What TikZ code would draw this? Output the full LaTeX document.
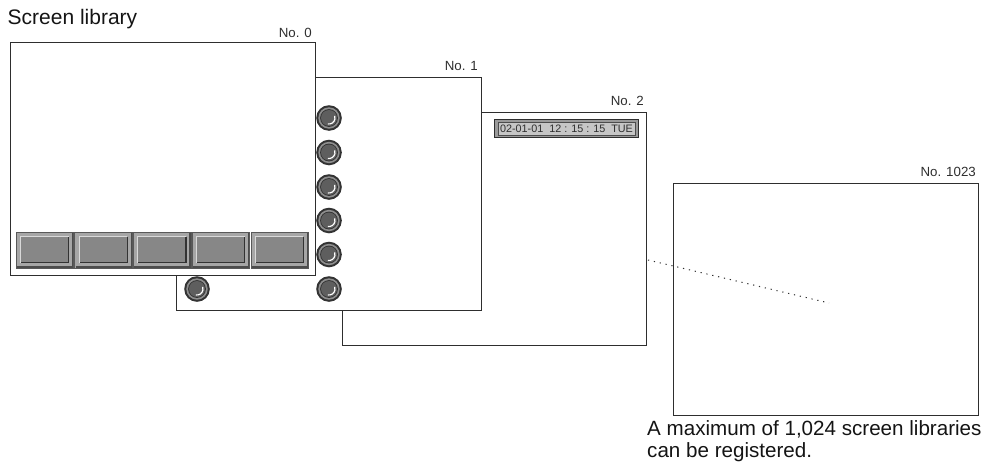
\documentclass[tikz,border=0pt]{standalone}
\usepackage{fontspec}
\setmainfont{Liberation Sans}
\definecolor{edge}{HTML}{2E2E2E}
\definecolor{btnout}{HTML}{A6A6A6}
\definecolor{btnin}{HTML}{878787}
\definecolor{knobdark}{HTML}{333333}
\definecolor{knobring}{HTML}{8E8E8E}
\definecolor{knobface}{HTML}{5E5E5E}
\definecolor{dateout}{HTML}{9A9A9A}
\definecolor{datein}{HTML}{C6C6C6}
\tikzset{
  screen/.style={draw=edge, line width=1.2pt, fill=white, anchor=north west,
    inner sep=0pt, minimum width=305pt, minimum height=233pt},
  nolabel/.style={anchor=base east, inner sep=0pt, font=\fontsize{13.3}{15}\selectfont, text=edge},
  bigtext/.style={inner sep=0pt, font=\fontsize{20.6}{22.7}\selectfont, text=black!92},
  knob/.pic={
    \fill[knobdark] (0,0) circle (12.8pt);
    \fill[knobring] (0,0) circle (10.7pt);
    \fill[knobdark] (0,0) circle (8.9pt);
    \fill[knobface] (0,0) circle (8pt);
    \draw[white, line width=1.2pt] (-100:6pt) arc[start angle=-100, end angle=20, radius=6pt];
  },
  btn/.pic={
    \fill[btnout] (0,0) rectangle (57.5,36);
    \draw[black!65, line width=0.6pt] (0,0) rectangle (57.5,36);
    \draw[black!70, line width=1.4pt] (1,35) -- (56.5,35) -- (56.5,1);
    \fill[btnin] (4.5,4.5) rectangle (52.5,30.5);
    \draw[black!80, line width=1.2pt] (4.5,30.5) -- (52.5,30.5) -- (52.5,4.5);
    \draw[white!85!black, line width=1pt] (4.5,30.5) -- (4.5,4.5) -- (52.5,4.5);
  }
}
\begin{document}
\begin{tikzpicture}[x=1pt, y=-1pt]
\useasboundingbox (0,0) rectangle (1000,466);

% screen No. 1023 (back)
\node[screen, minimum height=232pt] (s1023) at (673,183) {};
\node[nolabel] (l1023) at (976,176) {No. 1023};

% dotted continuation
\coordinate (d1) at (648,260);
\coordinate (d2) at (829,303);
\draw[edge, line width=1pt, dash pattern=on 1.2pt off 4.8pt] (d1) -- (d2);

% screen No. 2
\node[screen, minimum width=304pt] (s2) at (342,112) {};
\node[nolabel] (l2) at (644,105) {No. 2};
\node[draw=edge, line width=1pt, fill=dateout, anchor=north west, inner sep=0pt,
      minimum width=144pt, minimum height=18pt] (dateo) at (494,119) {};
\node[fill=datein, draw=black!70, line width=0.6pt, inner sep=0pt,
      minimum width=137pt, minimum height=13pt,
      font=\fontsize{10.8}{12}\selectfont, text=edge] (date) at (dateo.center)
      {02-01-01~~12 : 15 : 15~~TUE};

% screen No. 1
\node[screen] (s1) at (176,77) {};
\node[nolabel] (l1) at (478,70) {No. 1};

% screen No. 0 (front)
\node[screen] (s0) at (10,42) {};
\node[nolabel] (l0) at (312,37) {No. 0};

% buttons of screen No. 0
\foreach \i in {0,...,4} {
  \pic (b\i) at ({16+58.7*\i},232) {btn};
}

% knobs of screen No. 1
\foreach \i/\yy in {1/118,2/152.5,3/187,4/220.5,5/254.5,6/289} {
  \pic (k\i) at (329,\yy) {knob};
}
\pic (k7) at (197,289) {knob};

% texts
\node[bigtext, anchor=base west, font=\fontsize{21}{23}\selectfont] (title) at (7.5,24) {Screen library};
\node[bigtext, anchor=north west, align=left] (note) at (647,420)
  {A maximum of 1,024 screen libraries\\can be registered.};
\end{tikzpicture}
\end{document}
